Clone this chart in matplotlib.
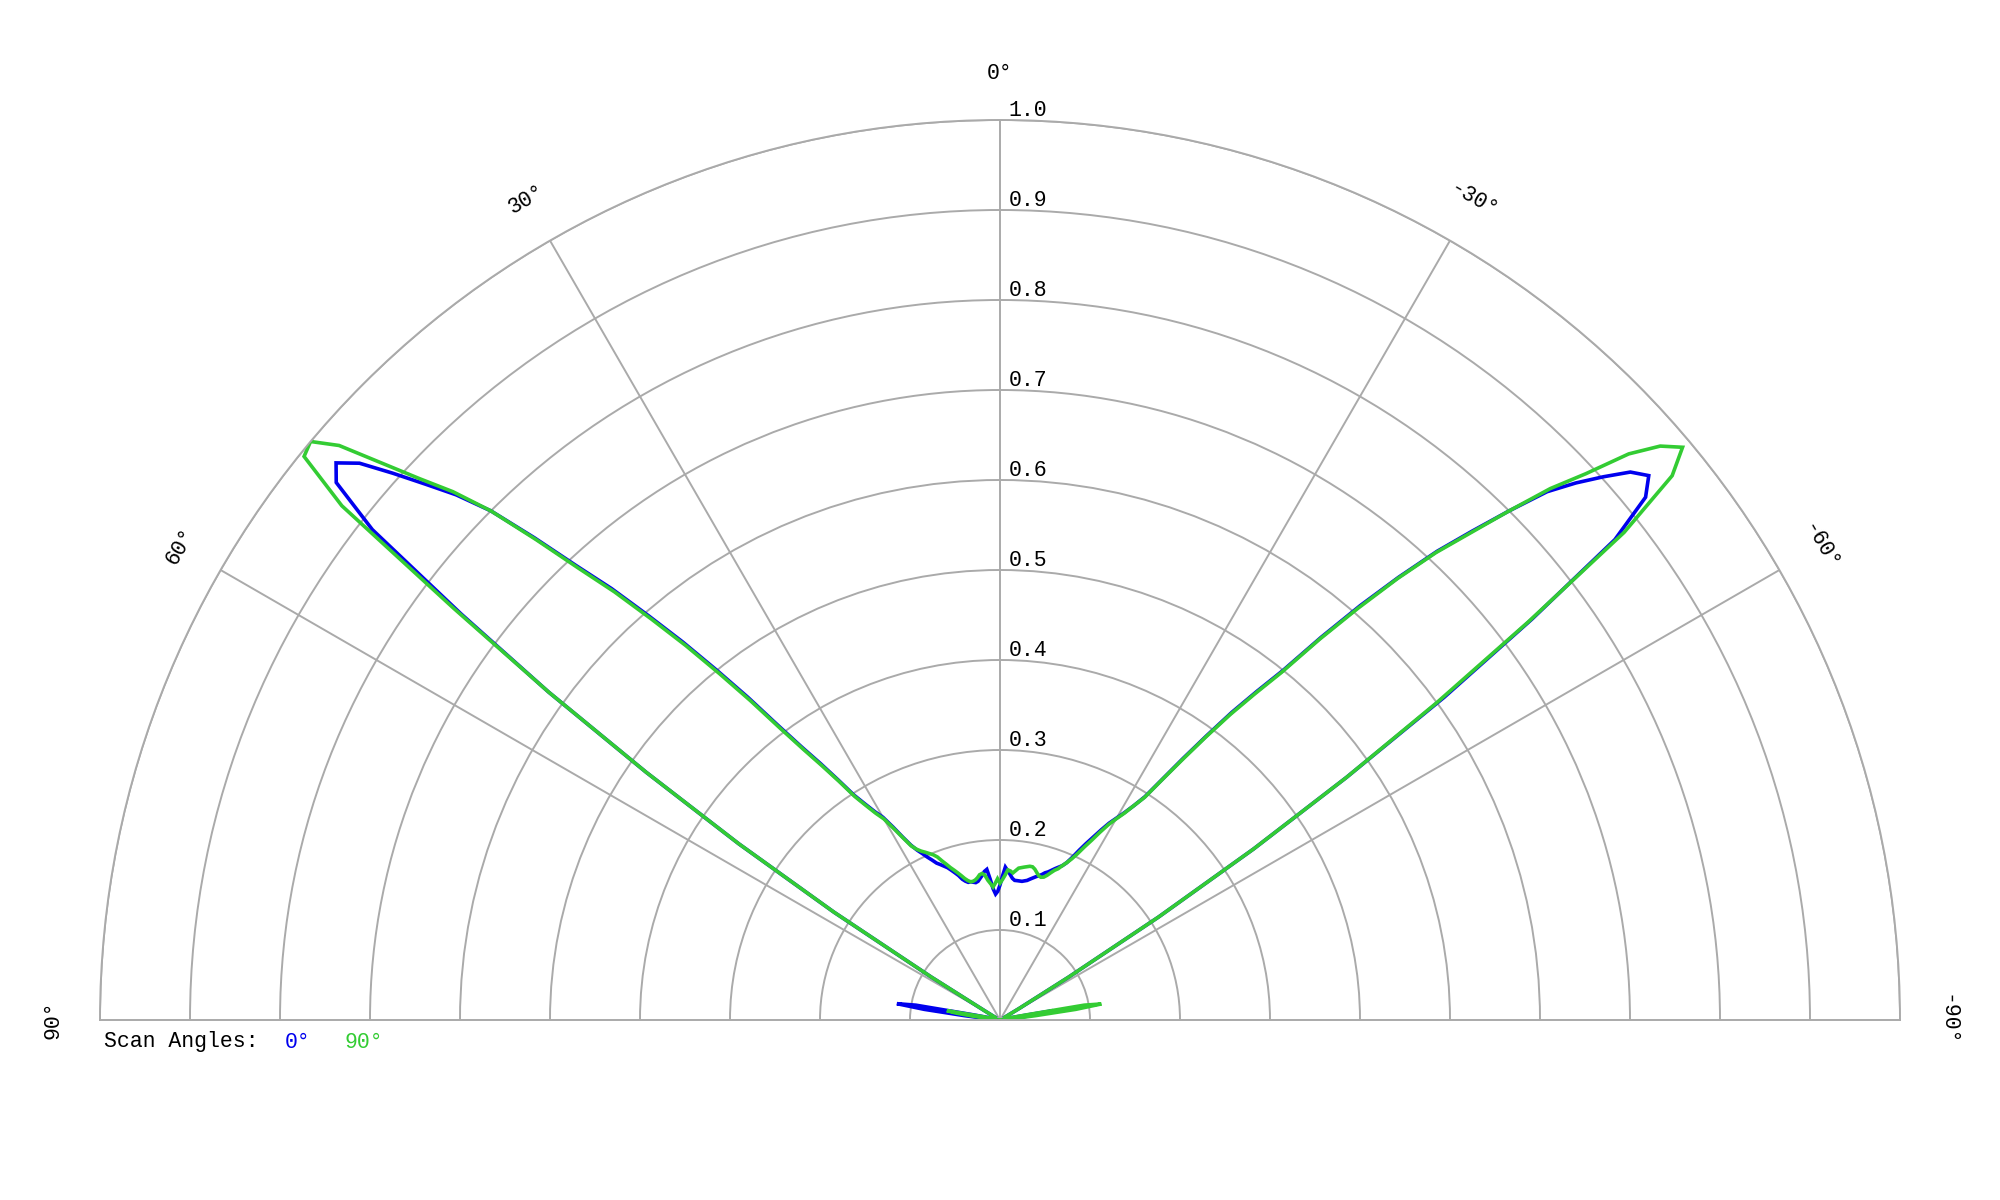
import numpy as np
import matplotlib
matplotlib.use('Agg')
import matplotlib.pyplot as plt

plt.rcParams['font.family'] = ['Liberation Mono', 'DejaVu Sans']

# pattern sampled every degree, -90 (right) .. 90 (left)
angles = np.arange(-90, 91)

scan_0 = [
    0.0, 0.003, 0.004, 0.005, 0.006, 0.008, 0.012, 0.02, 0.03, 0.05,
    0.06, 0.02, 0.008, 0.006, 0.006, 0.006, 0.006, 0.006, 0.006, 0.006,
    0.006, 0.006, 0.006, 0.006, 0.006, 0.006, 0.006, 0.006, 0.006, 0.006,
    0.006, 0.025, 0.09, 0.21, 0.34, 0.47, 0.61, 0.74, 0.867, 0.923,
    0.941, 0.928, 0.902, 0.875, 0.845, 0.80, 0.755, 0.712, 0.662, 0.61,
    0.555, 0.50, 0.463, 0.428, 0.39, 0.355, 0.323, 0.296, 0.281, 0.269,
    0.259, 0.250, 0.239, 0.228, 0.218, 0.208, 0.198, 0.190, 0.185, 0.182,
    0.179, 0.176, 0.173, 0.171, 0.168, 0.166, 0.164, 0.162, 0.160, 0.158,
    0.157, 0.156, 0.156, 0.156, 0.156, 0.158, 0.162, 0.166, 0.170, 0.160,
    0.150, 0.143, 0.140, 0.146, 0.157, 0.168, 0.166, 0.162, 0.159, 0.156,
    0.155, 0.156, 0.157, 0.157, 0.159, 0.162, 0.167, 0.171, 0.175, 0.179,
    0.182, 0.185, 0.188, 0.193, 0.198, 0.204, 0.210, 0.218, 0.230, 0.245,
    0.260, 0.270, 0.283, 0.298, 0.322, 0.348, 0.375, 0.410, 0.455, 0.500,
    0.548, 0.595, 0.645, 0.690, 0.745, 0.800, 0.840, 0.873, 0.908, 0.943,
    0.963, 0.949, 0.885, 0.750, 0.620, 0.480, 0.350, 0.220, 0.090, 0.020,
    0.006, 0.006, 0.006, 0.006, 0.006, 0.006, 0.006, 0.006, 0.006, 0.006,
    0.006, 0.006, 0.006, 0.006, 0.006, 0.006, 0.006, 0.006, 0.01, 0.03,
    0.095, 0.116, 0.085, 0.04, 0.015, 0.008, 0.006, 0.005, 0.004, 0.003,
    0.0,
]

scan_90 = [
    0.0, 0.003, 0.004, 0.005, 0.006, 0.008, 0.015, 0.04, 0.085, 0.114,
    0.095, 0.03, 0.01, 0.006, 0.006, 0.006, 0.006, 0.006, 0.006, 0.006,
    0.006, 0.006, 0.006, 0.006, 0.006, 0.006, 0.006, 0.006, 0.006, 0.006,
    0.006, 0.025, 0.09, 0.21, 0.34, 0.47, 0.60, 0.735, 0.88, 0.961,
    0.99, 0.972, 0.94, 0.89, 0.85, 0.80, 0.752, 0.71, 0.66, 0.606,
    0.552, 0.497, 0.46, 0.425, 0.388, 0.353, 0.322, 0.295, 0.281, 0.268,
    0.258, 0.248, 0.236, 0.224, 0.214, 0.204, 0.196, 0.190, 0.185, 0.180,
    0.177, 0.173, 0.169, 0.166, 0.165, 0.166, 0.169, 0.172, 0.174, 0.174,
    0.173, 0.172, 0.171, 0.170, 0.167, 0.164, 0.166, 0.167, 0.161, 0.156,
    0.152, 0.157, 0.152, 0.148, 0.152, 0.156, 0.162, 0.164, 0.163, 0.160,
    0.158, 0.157, 0.157, 0.159, 0.162, 0.166, 0.170, 0.174, 0.178, 0.183,
    0.188, 0.194, 0.198, 0.201, 0.204, 0.207, 0.211, 0.217, 0.229, 0.243,
    0.258, 0.268, 0.281, 0.296, 0.320, 0.345, 0.372, 0.406, 0.450, 0.495,
    0.543, 0.590, 0.640, 0.686, 0.742, 0.800, 0.845, 0.882, 0.925, 0.973,
    1.000, 0.995, 0.928, 0.760, 0.620, 0.480, 0.350, 0.220, 0.090, 0.020,
    0.006, 0.006, 0.006, 0.006, 0.006, 0.006, 0.006, 0.006, 0.006, 0.006,
    0.006, 0.006, 0.006, 0.006, 0.006, 0.006, 0.006, 0.006, 0.008, 0.02,
    0.06, 0.05, 0.03, 0.015, 0.01, 0.008, 0.006, 0.005, 0.004, 0.003,
    0.0,
]

r_ticks = [0.1, 0.2, 0.3, 0.4, 0.5, 0.6, 0.7, 0.8, 0.9, 1.0]
theta_ticks = [-90, -60, -30, 0, 30, 60, 90]
legend_labels = ['0°', '90°']

grid_col = '#aaaaaa'
blue = '#0000ee'
green = '#33cc33'
fs = 15.5

fig = plt.figure(figsize=(20, 12), dpi=100)
# square box, half of it holds the half-disc
ax = fig.add_axes([0.05, -0.225, 0.9, 1.5], projection='polar')
ax.set_theta_zero_location('N')
ax.set_theta_direction(1)
ax.set_thetamin(-90)
ax.set_thetamax(90)
ax.set_ylim(0, 1.0)

ax.set_rgrids(r_ticks, labels=[''] * len(r_ticks))
ax.set_thetagrids(theta_ticks[1:-1], labels=[''] * (len(theta_ticks) - 2))
ax.grid(True, color=grid_col, lw=1.4)
ax.tick_params(length=0)
for sp in ax.spines.values():
    sp.set_color(grid_col)
    sp.set_linewidth(1.4)

ax.plot(np.deg2rad(angles), scan_0, color=blue, lw=2.6, solid_joinstyle='miter')
ax.plot(np.deg2rad(angles), scan_90, color=green, lw=2.6, solid_joinstyle='miter')

for a in theta_ticks:
    ax.text(np.deg2rad(a), 1.052, f'{a}°', rotation=a, rotation_mode='anchor',
            ha='center', va='center', fontsize=fs)

for r in r_ticks:
    ax.annotate(f'{r:.1f}', xy=(0, r), xytext=(6, 3), textcoords='offset points',
                ha='left', va='baseline', fontsize=fs)

fig.text(104 / 2000, 1 - 1042 / 1200, 'Scan Angles:', ha='left', va='center', fontsize=fs)
fig.text(285 / 2000, 1 - 1042 / 1200, legend_labels[0], color=blue, ha='left', va='center', fontsize=fs)
fig.text(345 / 2000, 1 - 1042 / 1200, legend_labels[1], color=green, ha='left', va='center', fontsize=fs)

fig.savefig('out.png', dpi=100)
